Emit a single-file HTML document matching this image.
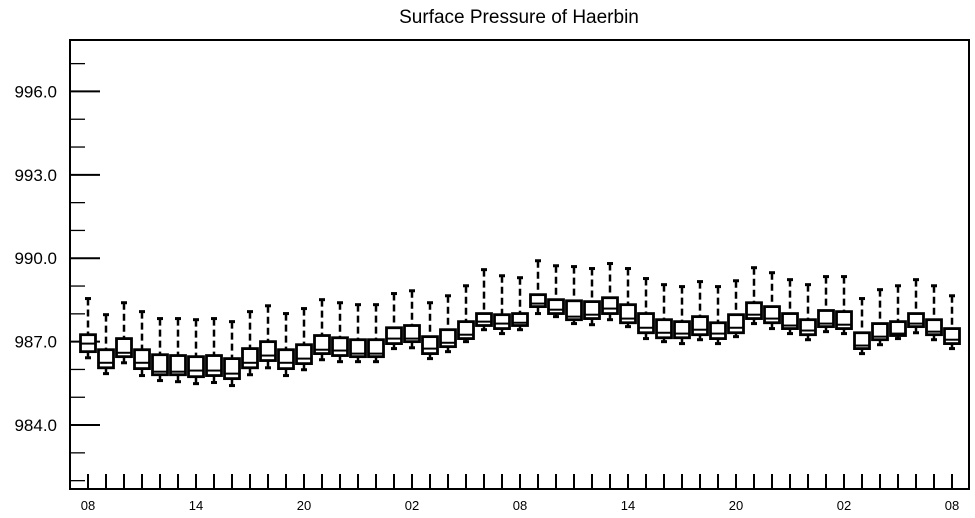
<!DOCTYPE html>
<html><head><meta charset="utf-8"><style>
html,body{margin:0;padding:0;background:#fff;}
svg{display:block;font-family:"Liberation Sans",sans-serif;}
</style></head><body>
<svg id="chart" width="975" height="518" viewBox="0 0 975 518">
<text x="519" y="23" text-anchor="middle" font-size="19">Surface Pressure of Haerbin</text>
<rect x="70" y="40" width="899" height="449" fill="none" stroke="#000" stroke-width="2"/>
<g id="axes"></g>
<g id="boxes"></g>
</svg>
<script>
const hourLabels = ["08","14","20","02","08","14","20","02","08"];
const yTicks = [984,987,990,993,996];
const whiskerHigh = [988.55,987.97,988.40,988.08,987.83,987.83,987.79,987.83,987.72,988.08,988.29,988.01,988.19,988.51,988.40,988.33,988.33,988.73,988.83,988.40,988.65,989.01,989.59,989.37,989.30,989.91,989.73,989.70,989.63,989.81,989.63,989.27,989.05,988.98,989.16,988.98,989.19,989.66,989.48,989.23,989.05,989.34,989.34,988.55,988.87,989.01,989.23,989.01,988.65];
const boxHigh = [987.25,986.71,987.11,986.71,986.53,986.50,986.46,986.50,986.39,986.75,987.00,986.71,986.89,987.22,987.14,987.07,987.07,987.50,987.58,987.18,987.43,987.72,988.01,987.97,988.01,988.69,988.51,988.47,988.44,988.58,988.33,988.01,987.79,987.72,987.90,987.68,987.97,988.40,988.26,988.01,987.79,988.12,988.08,987.32,987.65,987.72,988.01,987.79,987.47];
const medians = [986.93,986.24,986.60,986.24,985.92,985.92,985.96,985.96,985.85,986.24,986.50,986.24,986.39,986.71,986.68,986.57,986.57,987.11,987.11,986.75,986.96,987.25,987.72,987.65,987.68,988.37,988.15,987.90,987.97,988.19,987.83,987.50,987.32,987.29,987.43,987.29,987.50,987.97,987.83,987.58,987.40,987.65,987.61,986.86,987.18,987.29,987.65,987.36,987.07];
const boxLow = [986.64,986.06,986.46,986.03,985.81,985.81,985.74,985.78,985.67,986.06,986.32,986.03,986.21,986.57,986.50,986.46,986.46,986.93,987.00,986.57,986.82,987.11,987.58,987.47,987.58,988.26,988.01,987.79,987.83,988.01,987.68,987.32,987.14,987.14,987.25,987.11,987.32,987.83,987.68,987.47,987.25,987.54,987.47,986.75,987.07,987.22,987.54,987.25,986.93];
const whiskerLow = [986.42,985.85,986.24,985.78,985.60,985.56,985.49,985.53,985.42,985.81,986.06,985.78,985.99,986.35,986.28,986.28,986.28,986.75,986.78,986.39,986.64,987.00,987.43,987.29,987.43,988.01,987.90,987.65,987.61,987.79,987.54,987.11,987.00,986.93,987.07,986.93,987.18,987.65,987.47,987.29,987.07,987.36,987.29,986.57,986.89,987.11,987.32,987.07,986.75];

const NS = "http://www.w3.org/2000/svg";
const L=70, R=969, T=40, B=489;
const yMin = 981.7, yMax = 997.85;
function yPos(v){ return B - (v - yMin) / (yMax - yMin) * (B - T); }
function xPos(i){ return 88 + i * 18; }
function mk(tag, attrs, parent){ const e=document.createElementNS(NS,tag); for(const k in attrs) e.setAttribute(k,attrs[k]); parent.appendChild(e); return e; }

const axes = document.getElementById("axes");
// y ticks: major every 3, minor every 1
for (let v = Math.ceil(yMin); v <= Math.floor(yMax); v++) {
  const major = yTicks.indexOf(v) >= 0;
  const t = mk("line", {x1:L, x2:L+(major?30:15), y1:yPos(v), y2:yPos(v), stroke:"#000", "stroke-width": major?2:1.3}, axes);
  
  
}
yTicks.forEach(v => {
  const t = mk("text", {x:57, y:yPos(v)+6, "text-anchor":"end", "font-size":"17"}, axes);
  t.textContent = v.toFixed(1);
  
  
});
// x ticks hourly
for (let i = 0; i < whiskerHigh.length; i++) {
  const t = mk("line", {x1:xPos(i), x2:xPos(i), y1:B, y2:B-15, stroke:"#000", "stroke-width":2}, axes);
  
  
}
hourLabels.forEach((s, k) => {
  const t = mk("text", {x:xPos(k*6), y:510, "text-anchor":"middle", "font-size":"13"}, axes);
  t.textContent = s;
  
  
});

const boxes = document.getElementById("boxes");
const hw = 7.5;
for (let i = 0; i < whiskerHigh.length; i++) {
  const g = mk("g", {}, boxes);
  
  
  const x = xPos(i);
  const yt = yPos(boxHigh[i]), yb = yPos(boxLow[i]);
  const w1 = mk("line", {x1:x, x2:x, y1:yPos(whiskerHigh[i]), y2:yt, stroke:"#000", "stroke-width":2.5, "stroke-dasharray":"7 4"}, g);
  
  
  const c1 = mk("line", {x1:x-3, x2:x+3, y1:yPos(whiskerHigh[i]), y2:yPos(whiskerHigh[i]), stroke:"#000", "stroke-width":3}, g);
  
  
  const w2 = mk("line", {x1:x, x2:x, y1:yb, y2:yPos(whiskerLow[i]), stroke:"#000", "stroke-width":2.5}, g);
  
  
  const c2 = mk("line", {x1:x-3, x2:x+3, y1:yPos(whiskerLow[i]), y2:yPos(whiskerLow[i]), stroke:"#000", "stroke-width":3}, g);
  
  
  const r = mk("rect", {x:x-hw, y:yt, width:hw*2, height:Math.max(1, yb-yt), fill:"#fff", stroke:"#000", "stroke-width":2.8}, g);
  
  
  const m = mk("line", {x1:x-hw, x2:x+hw, y1:yPos(medians[i]), y2:yPos(medians[i]), stroke:"#000", "stroke-width":2}, g);
  
  
}
</script>
</body></html>
